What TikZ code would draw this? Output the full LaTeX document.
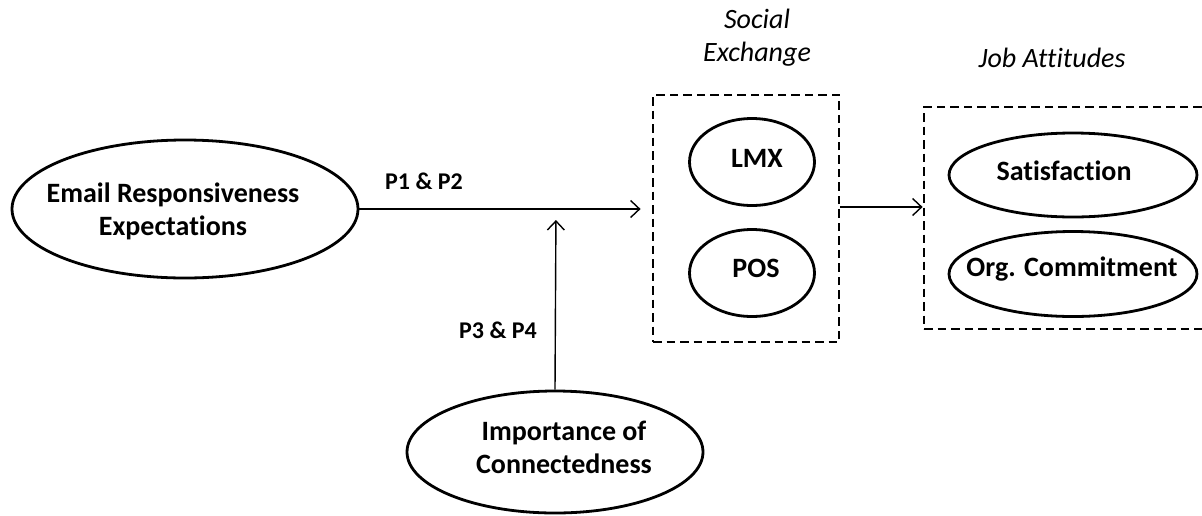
\documentclass[tikz,border=0pt]{standalone}
\usepackage{fontspec}
\setmainfont{Carlito}[Ligatures=NoCommon]
\usetikzlibrary{shapes.geometric,arrows.meta}
\begin{document}
\begin{tikzpicture}[x=1pt,y=-1pt,
  oval/.style={draw, ellipse, line width=2.8pt, inner sep=0pt},
  lbl/.style={font=\bfseries\fontsize{28}{33}\selectfont, align=center, inner sep=0pt},
  plbl/.style={font=\bfseries\fontsize{24}{29}\selectfont, inner sep=0pt},
  head/.style={font=\itshape\fontsize{28}{33}\selectfont, align=center, inner sep=0pt},
  group/.style={draw, line width=2.8pt, dash pattern=on 8.5pt off 5pt, inner sep=0pt},
  link/.style={line width=1.4pt, -{Straight Barb[length=9pt,width=17pt,line width=1.4pt]}}]
\useasboundingbox (0,0) rectangle (1202,515);
\clip (0,0) rectangle (1202,515);

% antecedent and moderator
\node[oval, minimum width=346pt, minimum height=138pt] (email) at (185,209) {};
\node[lbl] (emailtxt) at (173,211) {Email Responsiveness\\Expectations};
\node[oval, minimum width=296pt, minimum height=122pt] (imp) at (555,452) {};
\node[lbl] (imptxt) at (564,447) {Importance of\\Connectedness};

% social exchange group
\node[group, minimum width=186pt, minimum height=247pt] (sbox) at (746,218.5) {};
\node[head] (shead) at (757,38) {Social\\Exchange};
\node[oval, minimum width=125pt, minimum height=87pt] (lmx) at (752,162) {};
\node[lbl] (lmxtxt) at (757,158) {LMX};
\node[oval, minimum width=125pt, minimum height=87pt] (pos) at (752,273) {};
\node[lbl] (postxt) at (756,268) {POS};

% job attitudes group
\node[group, minimum width=291pt, minimum height=222pt] (jbox) at (1069.5,218) {};
\node[head] (jhead) at (1052,58) {Job Attitudes};
\node[oval, minimum width=248pt, minimum height=84pt] (sat) at (1073,175) {};
\node[lbl] (sattxt) at (1064,171) {Satisfaction};
\node[oval, minimum width=248pt, minimum height=85pt] (org) at (1073,274) {};
\node[lbl] (orgtxt) at (1072,269) {Org. Commitment};

% connectors
\coordinate (mid) at (556,207);
\draw[link, shorten >=11pt] (email.east) -- (email.east -| sbox.west);
\draw[link, shorten >=13pt] (imp.north) -- (mid);
\draw[link] (sbox.east |- mid) -- (jbox.west |- mid);

\node[plbl] (p12) at (424,181) {P1 \& P2};
\node[plbl] (p34) at (498,330) {P3 \& P4};
\end{tikzpicture}
\end{document}
